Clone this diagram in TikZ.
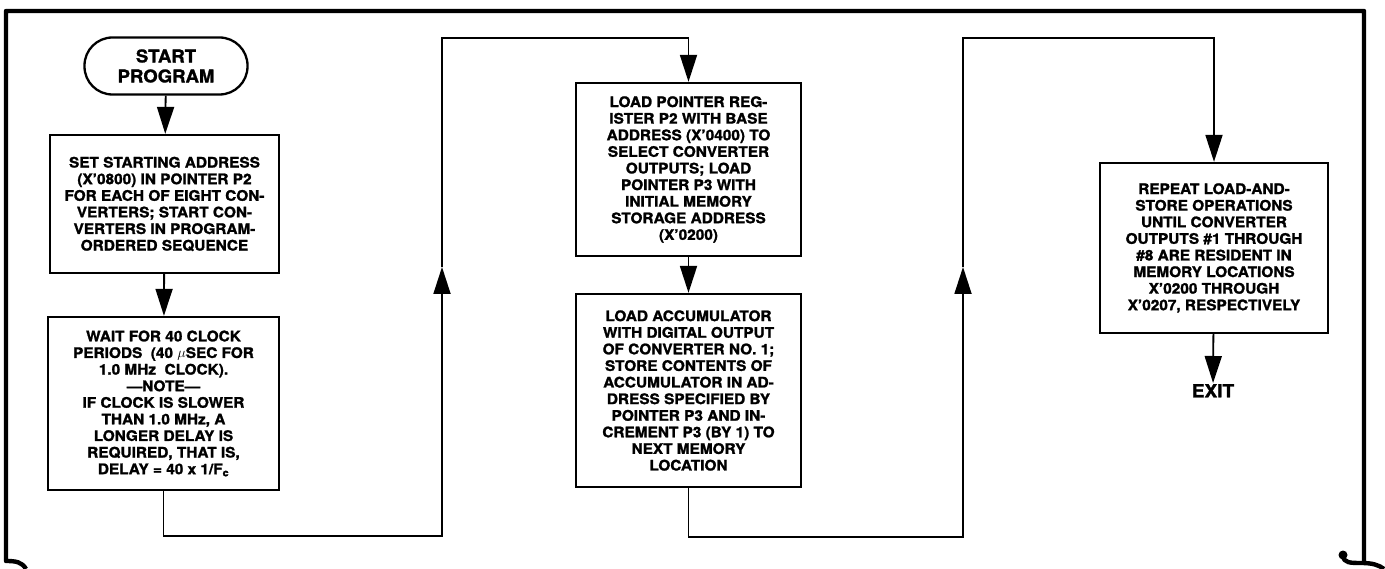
\documentclass[tikz,border=0pt]{standalone}
\usepackage{fontspec}
\setsansfont{TeX Gyre Heros}[FakeStretch=1.06,BoldFeatures={FakeBold=1.5}]
\usetikzlibrary{arrows.meta,calc,positioning}

\tikzset{
  stepbox/.style={draw,line width=2.3pt,align=center,inner sep=0pt,
    font=\sffamily\bfseries\fontsize{14.5}{16.6}\selectfont},
  termbox/.style={draw,line width=2.3pt,align=center,rounded corners=28pt,
    font=\sffamily\bfseries\fontsize{17.5}{20}\selectfont},
  flow/.style={line width=1.8pt,-{Triangle[length=27pt,width=17pt]}},
  frame/.style={line width=4.4pt}
}

\begin{document}
\begin{tikzpicture}[x=1pt,y=-1pt]
        \useasboundingbox (0,0) rectangle (1385,569);
        % outer frame, open at the bottom
        \draw[frame,line join=round]
          (26,569) .. controls (22,562) and (16,561) .. (6,561) -- (6,11)
          -- (1364,11) -- (1364,563);
        \draw[frame]
          (1343,556) .. controls (1344,563) and (1350,563) .. (1362,563)
          .. controls (1372,563) and (1379,565) .. (1384,569);
        \fill (1343,555) circle (4.5);

        % first column
        \node[termbox,minimum width=163pt,minimum height=57pt] (start) at (166,66)
          {START\\PROGRAM};
        \node[stepbox,minimum width=229pt,minimum height=138pt] (setaddr) at (164.5,204)
          {SET STARTING ADDRESS\\(X’0800) IN POINTER P2\\FOR EACH OF EIGHT CON-\\
           VERTERS; START CON-\\VERTERS IN PROGRAM-\\ORDERED SEQUENCE};
        \node[stepbox,minimum width=231pt,minimum height=173pt] (wait) at (163.5,403.5)
          {WAIT FOR 40 CLOCK\\PERIODS\ \ (40 $\mu$SEC FOR\\1.0 MHz\ \ CLOCK).\\
           ---NOTE---\\IF CLOCK IS SLOWER\\THAN 1.0 MHz, A\\LONGER DELAY IS\\
           REQUIRED, THAT IS,\\DELAY = 40 x 1/F\textsubscript{c}};

        % second column
        \node[stepbox,minimum width=225pt,minimum height=173pt] (loadptr) at (688.5,169.5)
          {LOAD POINTER REG-\\ISTER P2 WITH BASE\\ADDRESS (X’0400) TO\\
           SELECT CONVERTER\\OUTPUTS; LOAD\\POINTER P3 WITH\\INITIAL MEMORY\\
           STORAGE ADDRESS\\(X’0200)};
        \node[stepbox,minimum width=225pt,minimum height=193pt] (loadacc) at (688.5,390.5)
          {LOAD ACCUMULATOR\\WITH DIGITAL OUTPUT\\OF CONVERTER NO. 1;\\
           STORE CONTENTS OF\\ACCUMULATOR IN AD-\\DRESS SPECIFIED BY\\
           POINTER P3 AND IN-\\CREMENT P3 (BY 1) TO\\NEXT MEMORY\\LOCATION};

        % third column
        \node[stepbox,minimum width=228pt,minimum height=170pt] (repeat) at (1214,248)
          {REPEAT LOAD-AND-\\STORE OPERATIONS\\UNTIL CONVERTER\\
           OUTPUTS \#1 THROUGH\\\#8 ARE RESIDENT IN\\MEMORY LOCATIONS\\
           X’0200 THROUGH\\X’0207, RESPECTIVELY};
        \node[font=\sffamily\bfseries\fontsize{18}{20}\selectfont,inner sep=1pt,anchor=north]
          (exit) at (1213,383) {EXIT};

        % connectors
        \coordinate (up1) at (442,267);
        \coordinate (top1) at (442,38);
        \coordinate (up2) at (963,267);
        \coordinate (top2) at (963,38);

        \draw[flow] (start) -- (setaddr);
        \draw[flow] (setaddr) -- (wait);
        \draw[flow] (wait.south) -- ++(0,45) -| (up1);
        \draw[flow] (up1) -- (top1) -| (loadptr.north);
        \draw[flow] (loadptr) -- (loadacc);
        \draw[flow] (loadacc.south) -- ++(0,49) -| (up2);
        \draw[flow] (up2) -- (top2) -| (repeat.north);
        \draw[flow] (repeat) -- (exit);
      \end{tikzpicture}
\end{document}
